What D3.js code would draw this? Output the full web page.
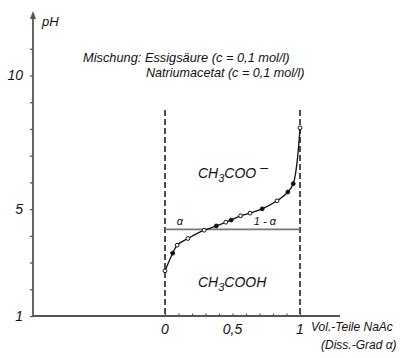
<!DOCTYPE html>
<html><head><meta charset="utf-8">
<script src="https://cdn.jsdelivr.net/npm/d3@7"></script>
<style>body{margin:0;background:#fff}svg{display:block}text{font-family:"Liberation Sans",Arial,sans-serif;font-style:italic;fill:#111}</style>
</head><body>
<script>
// Data
const alpha = [0.00, 0.057, 0.09, 0.17, 0.29, 0.38, 0.45, 0.49, 0.56, 0.63, 0.72, 0.83, 0.91, 0.95, 1.0];
const pH    = [2.69, 3.35, 3.65, 3.90, 4.21, 4.37, 4.51, 4.59, 4.75, 4.85, 5.01, 5.31, 5.64, 5.95, 8.04];
const filled = [0,1,0,0,0,1,0,1,0,0,1,0,1,1,0];
const yTicks = [1,2,3,4,5,6,7,8,9,10,11];
const yLabels = {1:"1",5:"5",10:"10"};
const xTicks = [0,0.1,0.2,0.3,0.4,0.5,0.6,0.7,0.8,0.9,1];
const xLabels = {0:"0",0.5:"0,5",1:"1"};
const lineLevel = 4.24;
const titleLines = ["Mischung: Essigsäure (c = 0,1 mol/l)", "Natriumacetat (c = 0,1 mol/l)"];

const W=400,H=358;
const svg=d3.select("body").append("svg").attr("width",W).attr("height",H);
const x=d3.scaleLinear().domain([0,1]).range([165,300]);
const y=d3.scaleLinear().domain([1,10]).range([316,75.5]);
const x0=33;
const axCol="#555";

// y axis
const ya=svg.append("g").attr("transform",`translate(${x0},0)`)
 .call(d3.axisLeft(y).tickValues(yTicks).tickSize(3).tickPadding(7).tickFormat(d=>yLabels[d]||""));
ya.select(".domain").remove();
ya.selectAll("line").attr("stroke",axCol).attr("stroke-width",1.3);
ya.selectAll("text").style("font-size","14px").attr("fill","#111").attr("font-family","Liberation Sans");
svg.append("line").attr("x1",x0).attr("x2",x0).attr("y1",y(1)).attr("y2",13).attr("stroke",axCol).attr("stroke-width",1.8);
svg.append("path").attr("d",`M${x0-3},${19} L${x0},${11} L${x0+3},${19} Z`).attr("fill",axCol);
svg.append("text").attr("x",42).attr("y",26).style("font-size","13px").text("pH");

// x axis
svg.append("line").attr("x1",x0).attr("x2",340).attr("y1",y(1)).attr("y2",y(1)).attr("stroke",axCol).attr("stroke-width",1.8);
const xa=svg.append("g").attr("transform",`translate(0,${y(1)})`)
 .call(d3.axisTop(x).tickValues(xTicks).tickSize(2.5).tickFormat(""));
xa.select(".domain").remove();
xa.selectAll("line").attr("stroke",axCol).attr("stroke-width",1.2);
svg.selectAll(".xl").data(xTicks.filter(d=>xLabels[d]!==undefined)).enter().append("text")
 .attr("x",d=>x(d)).attr("y",y(1)+18).attr("text-anchor","middle").style("font-size","14px").text(d=>xLabels[d]);
svg.append("text").attr("x",311).attr("y",331).style("font-size","12px").text("Vol.-Teile NaAc");
svg.append("text").attr("x",321).attr("y",349).style("font-size","12px").text("(Diss.-Grad α)");

// dashed boundaries
[0,1].forEach(a=>svg.append("line").attr("x1",x(a)).attr("x2",x(a)).attr("y1",110).attr("y2",y(1))
 .attr("stroke","#222").attr("stroke-width",1.6).attr("stroke-dasharray","6,3"));

// horizontal line
svg.append("line").attr("x1",x(0)).attr("x2",x(1)).attr("y1",y(lineLevel)).attr("y2",y(lineLevel))
 .attr("stroke","#777").attr("stroke-width",1.6);
svg.append("text").attr("x",x(0.11)).attr("y",y(lineLevel)-4).attr("text-anchor","middle").style("font-size","11px").text("α");
svg.append("text").attr("x",x(0.74)).attr("y",y(lineLevel)-4).attr("text-anchor","middle").style("font-size","11px").text("1 - α");

// curve
const pts=alpha.map((a,i)=>[a,pH[i]]);
svg.append("path").datum(pts).attr("fill","none").attr("stroke","#111").attr("stroke-width",1.3)
 .attr("d",d3.line().x(d=>x(d[0])).y(d=>y(d[1])).curve(d3.curveCatmullRom.alpha(0.5)));
svg.selectAll(".pt").data(pts).enter().append("circle")
 .attr("cx",d=>x(d[0])).attr("cy",d=>y(d[1])).attr("r",1.9)
 .attr("fill",(d,i)=>filled[i]?"#111":"#fff").attr("stroke","#111").attr("stroke-width",1);

// region labels
const t1=svg.append("text").attr("x",198).attr("y",178).style("font-size","14px");
t1.append("tspan").text("CH");
t1.append("tspan").attr("dy",4).style("font-size","11px").text("3");
t1.append("tspan").attr("dy",-4).text("COO");
t1.append("tspan").attr("dy",-6).text(" –");
const t2=svg.append("text").attr("x",198).attr("y",287).style("font-size","14px");
t2.append("tspan").text("CH");
t2.append("tspan").attr("dy",4).style("font-size","11px").text("3");
t2.append("tspan").attr("dy",-4).text("COOH");

// title
svg.append("text").attr("x",83).attr("y",62).style("font-size","12.8px").text(titleLines[0]);
svg.append("text").attr("x",146).attr("y",77).style("font-size","12.6px").text(titleLines[1]);
</script>
</body></html>
